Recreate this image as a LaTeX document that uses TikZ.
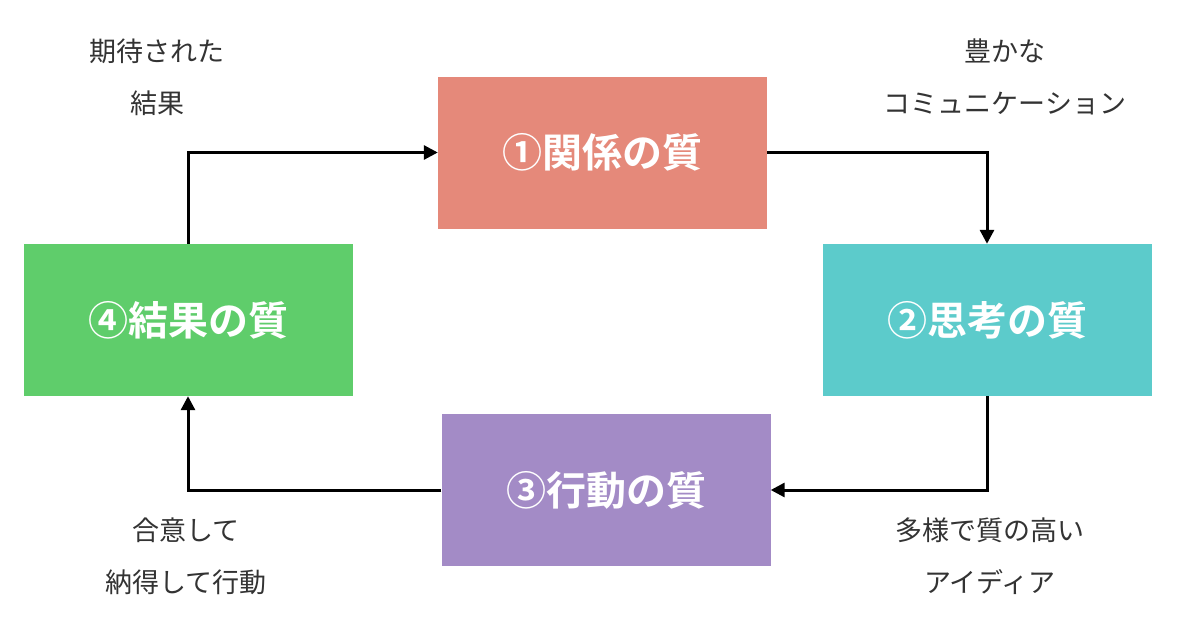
\documentclass[tikz,border=0pt]{standalone}
\usepackage{fontspec}
\newfontfamily\cjk{Noto Sans CJK JP}
\newfontfamily\cjkb{Noto Sans CJK JP Bold}
\usetikzlibrary{arrows.meta}
\definecolor{cred}{HTML}{E5897A}
\definecolor{cteal}{HTML}{5CCBCB}
\definecolor{cpurp}{HTML}{A38BC6}
\definecolor{cgreen}{HTML}{5FCD6B}
\definecolor{ctxt}{HTML}{333333}
\begin{document}
\begin{tikzpicture}[x=1pt,y=-1pt,
  box/.style={minimum width=329pt,minimum height=152pt,inner sep=0pt,text=white,font=\cjkb\fontsize{40}{44}\selectfont},
  lab/.style={align=center,text=ctxt,font=\cjk\fontsize{27}{52}\selectfont},
  arr/.style={line width=3pt,-{Triangle[length=14pt,width=14pt]}}]
\useasboundingbox (0,0) rectangle (1200,629);
\node[box,fill=cred] (b1) at (602.5,152.5) {①関係の質};
\node[box,fill=cteal] (b2) at (987,320) {②思考の質};
\node[box,fill=cpurp] (b3) at (606,490) {③行動の質};
\node[box,fill=cgreen] (b4) at (188,320) {④結果の質};
\draw[arr] (b4.north) |- (b1.west);
\draw[arr] (b1.east) -| (b2.north);
\draw[arr] (b2.south) |- (b3.east);
\draw[arr] (b3.west) -| (b4.south);
\node[lab] (l1) at (157,77) {期待された\\結果};
\node[lab] (l2) at (1005,77) {豊かな\\コミュニケーション};
\node[lab] (l3) at (186,556) {合意して\\納得して行動};
\node[lab] (l4) at (990,556) {多様で質の高い\\アイディア};
\end{tikzpicture}
\end{document}
